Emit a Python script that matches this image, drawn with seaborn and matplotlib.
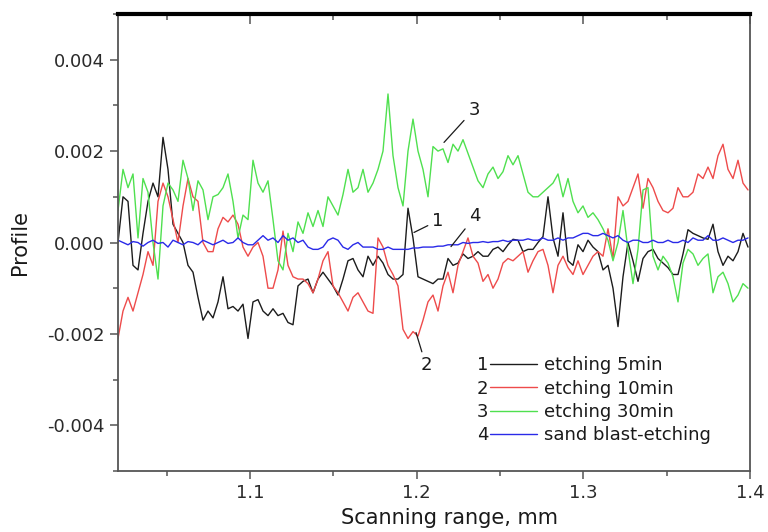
import numpy as np
import pandas as pd
import matplotlib
matplotlib.use("Agg")
import matplotlib.pyplot as plt
from matplotlib.lines import Line2D
from matplotlib.ticker import MultipleLocator, FuncFormatter
import seaborn as sns

# Scan positions: start and step of the profilometer trace, in mm
x_start = 1.0208
x_step = 0.003

# Surface profiles in micrometres (converted to mm below)
etch_5min = [
    0.0, 1.0, 0.9, -0.5, -0.6, 0.2, 0.9, 1.3, 1.0, 2.3,
    1.6, 0.4, 0.2, 0.0, -0.5, -0.65, -1.2, -1.7, -1.5, -1.65,
    -1.3, -0.75, -1.45, -1.4, -1.5, -1.35, -2.1, -1.3, -1.25, -1.5,
    -1.6, -1.45, -1.6, -1.55, -1.75, -1.8, -0.95, -0.85, -0.8, -1.1,
    -0.8, -0.65, -0.8, -0.95, -1.15, -0.8, -0.4, -0.35, -0.6, -0.75,
    -0.3, -0.5, -0.3, -0.45, -0.7, -0.8, -0.8, -0.7, 0.75, 0.1,
    -0.75, -0.8, -0.85, -0.9, -0.8, -0.8, -0.35, -0.5, -0.45, -0.25,
    -0.35, -0.3, -0.2, -0.3, -0.3, -0.15, -0.1, -0.2, -0.05, 0.07,
    0.05, -0.2, -0.15, -0.15, 0.0, 0.13, 1.0, 0.1, -0.3, 0.65,
    -0.4, -0.5, -0.05, -0.2, 0.05, -0.1, -0.2, -0.6, -0.5, -1.0,
    -1.84, -0.75, 0.0, -0.4, -0.85, -0.35, -0.2, -0.15, -0.35, -0.45,
    -0.55, -0.7, -0.7, -0.25, 0.28, 0.2, 0.15, 0.1, 0.07, 0.4,
    -0.2, -0.5, -0.3, -0.4, -0.2, 0.2, -0.1,
]
etch_10min = [
    -2.1, -1.5, -1.2, -1.5, -1.1, -0.7, -0.2, -0.5, 0.9, 1.3,
    1.0, 0.5, 0.0, 0.8, 1.4, 1.0, 0.9, 0.0, -0.2, -0.2,
    0.3, 0.55, 0.45, 0.6, 0.4, -0.1, -0.3, -0.1, 0.0, -0.3,
    -1.0, -1.0, -0.6, 0.25, -0.5, -0.75, -0.8, -0.8, -0.9, -1.1,
    -0.8, -0.4, -0.2, -0.95, -1.1, -1.3, -1.5, -1.2, -1.1, -1.3,
    -1.5, -1.55, 0.1, -0.1, -0.5, -0.7, -0.95, -1.9, -2.1, -1.95,
    -2.05, -1.7, -1.3, -1.15, -1.5, -0.95, -0.65, -1.1, -0.5, -0.2,
    0.1, -0.3, -0.45, -0.85, -0.7, -1.0, -0.8, -0.45, -0.35, -0.4,
    -0.3, -0.2, -0.65, -0.4, -0.2, -0.15, -0.5, -1.1, -0.5, -0.3,
    -0.55, -0.7, -0.4, -0.7, -0.5, -0.3, -0.2, -0.3, 0.3, -0.35,
    1.0, 0.8, 0.9, 1.2, 1.5, 0.75, 1.4, 1.2, 0.9, 0.7,
    0.65, 0.75, 1.2, 1.0, 1.0, 1.1, 1.5, 1.4, 1.65, 1.4,
    1.9, 2.15, 1.6, 1.4, 1.8, 1.3, 1.15,
]
etch_30min = [
    0.7, 1.6, 1.2, 1.5, 0.1, 1.4, 1.1, 0.0, -0.8, 0.8,
    1.3, 1.15, 0.9, 1.8, 1.4, 0.7, 1.35, 1.15, 0.5, 1.0,
    1.05, 1.2, 1.5, 0.9, 0.1, 0.6, 0.5, 1.8, 1.3, 1.1,
    1.35, 0.5, -0.4, -0.6, 0.2, -0.2, 0.45, 0.2, 0.65, 0.35,
    0.7, 0.35, 1.0, 0.8, 0.6, 1.05, 1.6, 1.1, 1.2, 1.6,
    1.1, 1.3, 1.6, 2.0, 3.25, 1.9, 1.2, 0.8, 2.0, 2.7,
    2.0, 1.6, 1.0, 2.1, 2.0, 2.05, 1.75, 2.15, 2.0, 2.25,
    1.95, 1.65, 1.35, 1.2, 1.5, 1.65, 1.4, 1.55, 1.9, 1.7,
    1.9, 1.5, 1.1, 1.0, 1.0, 1.1, 1.2, 1.3, 1.5, 1.0,
    1.4, 0.9, 0.65, 0.8, 0.55, 0.65, 0.5, 0.3, 0.05, -0.4,
    0.0, 0.7, -0.15, -0.9, -0.15, 1.15, 1.2, -0.3, -0.6, -0.3,
    -0.45, -0.75, -1.3, -0.45, -0.15, -0.25, -0.5, -0.35, -0.25, -1.1,
    -0.75, -0.65, -0.9, -1.3, -1.15, -0.9, -1.0,
]
sand_blast = [
    0.05, 0.0, -0.05, 0.02, 0.0, -0.08, 0.0, 0.05, -0.02, 0.0,
    -0.1, 0.05, 0.0, -0.05, 0.02, 0.0, -0.05, 0.05, 0.0, -0.05,
    0.0, 0.05, -0.02, 0.0, 0.1, 0.0, -0.05, -0.05, 0.05, 0.15,
    0.05, 0.1, 0.0, 0.15, 0.05, 0.1, 0.0, 0.05, -0.1, -0.15,
    -0.15, -0.1, 0.05, 0.1, 0.05, -0.1, -0.15, -0.05, 0.0, -0.1,
    -0.1, -0.1, -0.15, -0.15, -0.1, -0.15, -0.15, -0.15, -0.15, -0.12,
    -0.12, -0.1, -0.1, -0.1, -0.08, -0.08, -0.05, -0.05, -0.05, 0.0,
    -0.02, 0.0, 0.0, 0.02, 0.0, 0.02, 0.02, 0.05, 0.02, 0.05,
    0.05, 0.05, 0.08, 0.05, 0.05, 0.1, 0.05, 0.05, 0.1, 0.05,
    0.1, 0.1, 0.15, 0.2, 0.2, 0.15, 0.15, 0.2, 0.15, 0.1,
    0.15, 0.05, 0.0, 0.05, 0.05, 0.0, 0.0, 0.05, 0.0, 0.0,
    0.05, 0.0, 0.0, 0.05, 0.0, 0.1, 0.05, 0.05, 0.15, 0.05,
    0.05, 0.1, 0.05, 0.0, 0.05, 0.05, 0.1,
]

labels = ["etching 5min", "etching 10min", "etching 30min", "sand blast-etching"]
numbers = ["1", "2", "3", "4"]
colors = ["#1c1c1c", "#ee4b4b", "#4fe04f", "#2a2ae8"]
series = [etch_5min, etch_10min, etch_30min, sand_blast]

frames = []
for lab, vals in zip(labels, series):
    v = np.asarray(vals, dtype=float) / 1000.0
    frames.append(pd.DataFrame({
        "x": x_start + x_step * np.arange(len(v)),
        "profile": v,
        "sample": lab,
    }))
df = pd.concat(frames, ignore_index=True)

sns.set_theme(style="white")
plt.rcParams["font.family"] = ["DejaVu Sans"]
plt.rcParams["axes.unicode_minus"] = False

W, H = 768, 532
fig = plt.figure(figsize=(W / 100, H / 100), dpi=100)
ax = fig.add_axes([118 / W, 1 - 471 / H, 632 / W, 457 / H])

sns.lineplot(data=df, x="x", y="profile", hue="sample", hue_order=labels,
             palette=dict(zip(labels, colors)), estimator=None, sort=False,
             linewidth=1.0, legend=False, ax=ax)

ax.set_xlim(x_start, 1.4)
ax.set_ylim(-0.005, 0.005)

tick_col = "#2a2a2a"
ax.xaxis.set_major_locator(MultipleLocator(0.1))
ax.xaxis.set_minor_locator(MultipleLocator(0.05))
ax.yaxis.set_major_locator(MultipleLocator(0.002))
ax.yaxis.set_minor_locator(MultipleLocator(0.001))
ax.xaxis.set_major_formatter(FuncFormatter(lambda v, p: f"{v:.1f}"))
ax.yaxis.set_major_formatter(
    FuncFormatter(lambda v, p: f"{0.0 if abs(v) < 1e-12 else v:.3f}"))

ax.tick_params(axis="both", which="both", direction="out", colors="#555555",
               labelcolor=tick_col, labelsize=13, width=1.1,
               bottom=True, left=True, top=False, right=False)
ax.tick_params(axis="both", which="major", length=6)
ax.tick_params(axis="both", which="minor", length=3.5)

for side in ["left", "bottom", "right"]:
    ax.spines[side].set_color("#555555")
    ax.spines[side].set_linewidth(1.3)
ax.spines["top"].set_color("black")
ax.spines["top"].set_linewidth(3.0)

# inward ticks along the top edge
top = ax.secondary_xaxis("top")
top.xaxis.set_major_locator(MultipleLocator(0.1))
top.xaxis.set_minor_locator(MultipleLocator(0.05))
top.tick_params(axis="x", which="both", direction="in", top=True,
                labeltop=False, colors="#555555", width=1.1)
top.tick_params(axis="x", which="major", length=7)
top.tick_params(axis="x", which="minor", length=4)
top.spines["top"].set_visible(False)

ax.set_xlabel("Scanning range, mm", fontsize=15, color="#1a1a1a")
ax.set_ylabel("Profile", fontsize=15, color="#1a1a1a")
ax.xaxis.set_label_coords(0.525, -0.08)
ax.yaxis.set_label_coords(-0.14, 0.5)

# curve labels with leader lines
curve_tags = [
    ("1", (1.1984, 0.00022), (1.2128, 0.00048)),
    ("2", (1.1996, -0.00197), (1.2056, -0.00269)),
    ("3", (1.2164, 0.00219), (1.2344, 0.00291)),
    ("4", (1.2206, -0.00009), (1.2350, 0.00057)),
]
for txt, xy, xyt in curve_tags:
    ax.annotate(txt, xy=xy, xytext=xyt, ha="center", va="center",
                fontsize=13, color="#1a1a1a",
                arrowprops=dict(arrowstyle="-", color="#1a1a1a", lw=0.9,
                                shrinkA=1, shrinkB=0))

handles = [Line2D([], [], color=c, lw=1.0) for c in colors]
leg = ax.legend(handles, labels, loc="lower left",
                bbox_to_anchor=(0.589, 0.058), frameon=False, fontsize=13,
                handlelength=2.6, handletextpad=0.35, labelspacing=0.3,
                borderpad=0, borderaxespad=0)
for t in leg.get_texts():
    t.set_color("#1a1a1a")

# sample numbers in front of each legend key
fig.canvas.draw()
inv = fig.transFigure.inverted()
for num, line, t in zip(numbers, leg.get_lines(), leg.get_texts()):
    lb = line.get_window_extent()
    tb = t.get_window_extent()
    px, py = inv.transform((lb.x0 - 2, (tb.y0 + tb.y1) / 2))
    fig.text(px, py, num, ha="right", va="center", fontsize=13,
             color="#1a1a1a")

fig.savefig("out.png", dpi=100)
